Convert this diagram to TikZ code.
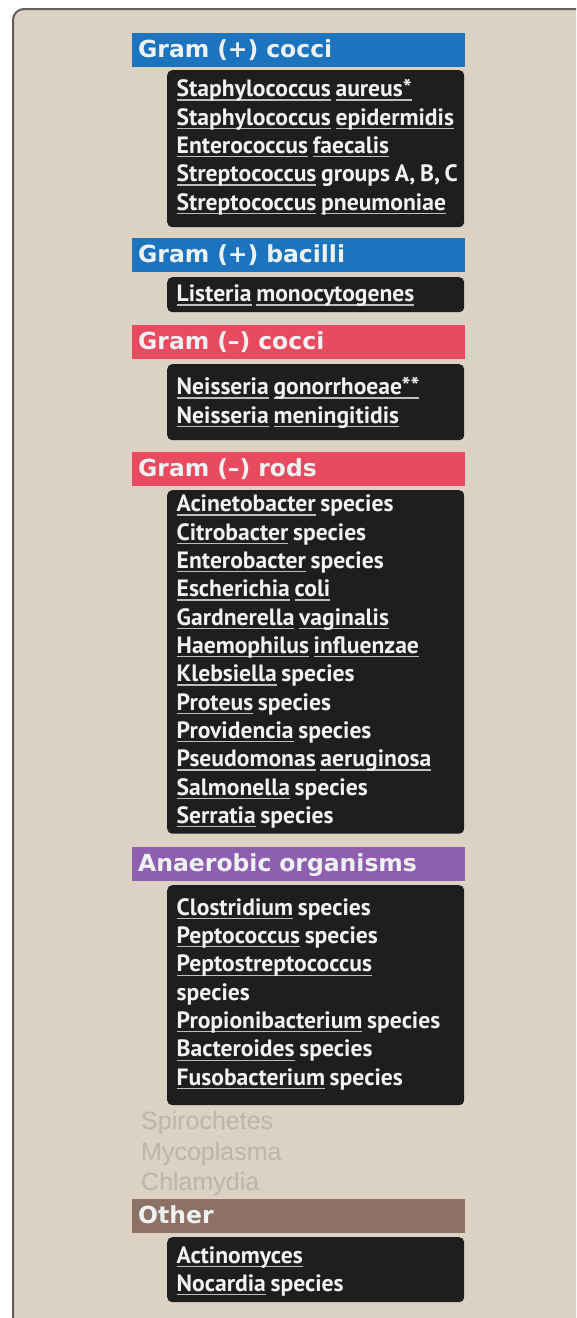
\documentclass[tikz,border=0pt]{standalone}
\usepackage{fontspec}
\newfontfamily\hdrfont{DejaVu Sans}
\newfontfamily\boxfont{PT Sans}
\newfontfamily\grayfont{Liberation Sans}
\definecolor{bgbeige}{HTML}{DBD2C4}
\definecolor{framecol}{HTML}{625E5A}
\definecolor{gpos}{HTML}{1C74BF}
\definecolor{gneg}{HTML}{E84A5F}
\definecolor{anaer}{HTML}{8E5FAF}
\definecolor{othr}{HTML}{8D7164}
\definecolor{boxblack}{HTML}{1E1E1E}
\definecolor{hdrtext}{HTML}{EEF2F2}
\definecolor{boxtext}{HTML}{F2F2F2}
\definecolor{ulgray}{HTML}{BDBDBD}
\definecolor{lighttext}{HTML}{BDB5AB}
\newcommand\myul[1]{\leavevmode\setbox0\hbox{#1}\rlap{\textcolor{ulgray}{\rule[-3.8pt]{\wd0}{1.2pt}}}\box0\relax}
\newcommand\boxsetup{\leftskip=9.5pt\spaceskip=0.2em plus 0.05em\relax}
\tikzset{
  hdr/.style={anchor=north west, inner xsep=6pt, inner ysep=0pt, text width=321pt,
    text height=24.5pt, text depth=9.5pt, align=left, text=hdrtext,
    font=\hdrfont\bfseries\fontsize{23.5}{28}\selectfont},
  blk/.style={anchor=north west, inner sep=0pt, text width=297pt, align=left,
    fill=boxblack, rounded corners=5pt, text=boxtext,
    font=\boxfont\bfseries\fontsize{23.6}{28.35}\selectfont},
  graytxt/.style={anchor=base west, inner sep=0pt, text=lighttext,
    font=\grayfont\fontsize{25}{28}\selectfont}
}
\begin{document}
\begin{tikzpicture}[x=1pt,y=-1pt]
\useasboundingbox (0,0) rectangle (576,1318);
\clip (0,0) rectangle (576,1318);
\fill[white] (0,0) rectangle (576,1318);
\draw[draw=framecol, line width=2pt, fill=bgbeige, rounded corners=11pt] (13,9) rectangle (640,1380);

% Gram (+) cocci
\node[hdr, fill=gpos] (h1) at (132,33) {Gram (+) cocci};
\node[blk, text height=26.5pt, text depth=130.5pt] (b1) at (167,70) {\boxsetup
\myul{Staphylococcus} \myul{aureus*}\\
\myul{Staphylococcus} \myul{epidermidis}\\
\myul{Enterococcus} \myul{faecalis}\\
\myul{Streptococcus} groups A, B, C\\
\myul{Streptococcus} \myul{pneumoniae}\par};

% Gram (+) bacilli
\node[hdr, fill=gpos] (h2) at (132,238) {Gram (+) bacilli};
\node[blk, text height=24.5pt, text depth=10.5pt] (b2) at (167,277) {\boxsetup
\myul{Listeria} \myul{monocytogenes}\par};

% Gram (-) cocci
\node[hdr, fill=gneg] (h3) at (132,325) {Gram (\textendash) cocci};
\node[blk, text height=30.5pt, text depth=45.5pt] (b3) at (167,364) {\boxsetup
\myul{Neisseria} \myul{gonorrhoeae**}\\
\myul{Neisseria} \myul{meningitidis}\par};

% Gram (-) rods
\node[hdr, fill=gneg] (h4) at (132,452) {Gram (\textendash) rods};
\node[blk, text height=21.5pt, text depth=322pt] (b4) at (167,490) {\boxsetup
\myul{Acinetobacter} species\\
\myul{Citrobacter} species\\
\myul{Enterobacter} species\\
\myul{Escherichia} \myul{coli}\\
\myul{Gardnerella} \myul{vaginalis}\\
\myul{Haemophilus} \myul{influenzae}\\
\myul{Klebsiella} species\\
\myul{Proteus} species\\
\myul{Providencia} species\\
\myul{Pseudomonas} \myul{aeruginosa}\\
\myul{Salmonella} species\\
\myul{Serratia} species\par};

% Anaerobic organisms
\node[hdr, fill=anaer] (h5) at (132,847) {Anaerobic organisms};
\node[blk, text height=30pt, text depth=190pt] (b5) at (167,885) {\boxsetup
\myul{Clostridium} species\\
\myul{Peptococcus} species\\
\myul{Peptostreptococcus}\\
species\\
\myul{Propionibacterium} species\\
\myul{Bacteroides} species\\
\myul{Fusobacterium} species\par};

% gray items
\node[graytxt] (s1) at (141,1129) {Spirochetes};
\node[graytxt] (s2) at (141,1160) {Mycoplasma};
\node[graytxt] (s3) at (141,1190) {Chlamydia};

% Other
\node[hdr, fill=othr] (h6) at (132,1199) {Other};
\node[blk, text height=26pt, text depth=39pt] (b6) at (167,1237) {\boxsetup
\myul{Actinomyces}\\
\myul{Nocardia} species\par};
\end{tikzpicture}
\end{document}
